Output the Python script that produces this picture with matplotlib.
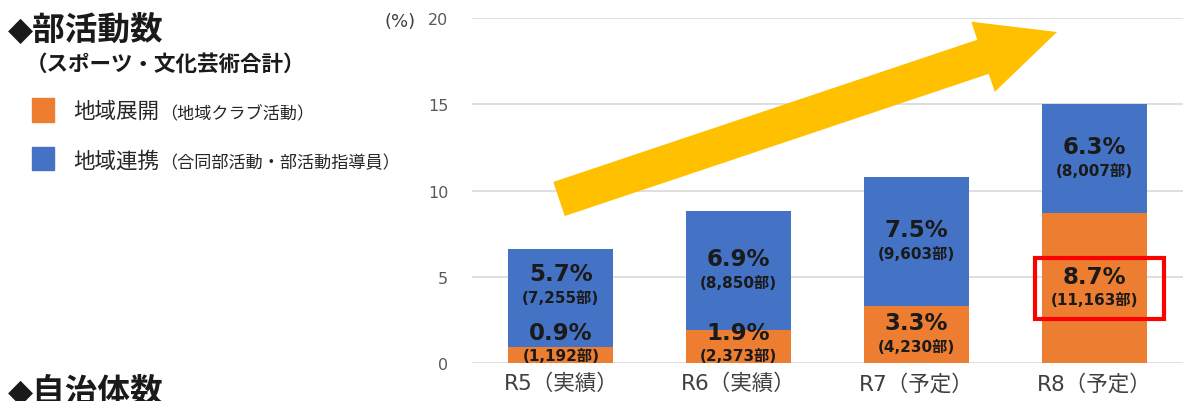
import numpy as np
import matplotlib
matplotlib.use("Agg")
import matplotlib.pyplot as plt
from matplotlib.patches import FancyArrow, Rectangle

plt.rcParams['font.family'] = ['DejaVu Sans', 'Noto Sans CJK JP']

# data
years = ["R5（実績）", "R6（実績）", "R7（予定）", "R8（予定）"]
local_pct = [0.9, 1.9, 3.3, 8.7]          # 地域展開
local_cnt = ["1,192", "2,373", "4,230", "11,163"]
coop_pct = [5.7, 6.9, 7.5, 6.3]           # 地域連携
coop_cnt = ["7,255", "8,850", "9,603", "8,007"]
yticks = [0, 5, 10, 15, 20]

orange = "#ED7D31"
blue = "#4472C4"
yellow = "#FFC000"
txt = "#1a1a1a"

fig = plt.figure(figsize=(12, 4.02), dpi=100)
ax = fig.add_axes([0.3933, 0.0945, 0.5925, 0.8582])

x = np.arange(len(years))
w = 0.59
ax.bar(x, local_pct, w, color=orange, zorder=2)
ax.bar(x, coop_pct, w, bottom=local_pct, color=blue, zorder=2)

ax.set_xlim(-0.5, 3.5)
ax.set_ylim(0, 20)
ax.set_yticks(yticks)
ax.yaxis.grid(True, color="#D9D9D9", lw=1.2, zorder=0)
ax.set_axisbelow(True)
for s in ax.spines.values():
    s.set_visible(False)
ax.tick_params(axis='y', length=0, pad=17, labelsize=11.5, labelcolor="#595959")
ax.tick_params(axis='x', length=0, pad=7, labelsize=15.5, labelcolor="#404040")
ax.set_xticks(x)
ax.set_xticklabels(years)

# labels inside bars
for i in range(len(years)):
    lo_mid = max(local_pct[i] / 2, 1.1)
    hi_mid = max(local_pct[i] + coop_pct[i] / 2, lo_mid + 3.4)
    for mid, p, c in [(lo_mid, local_pct[i], local_cnt[i]), (hi_mid, coop_pct[i], coop_cnt[i])]:
        ax.text(x[i], mid + 0.68, f"{p:.1f}%", ha='center', va='center',
                fontsize=16.5, fontweight='bold', color=txt, zorder=4)
        ax.text(x[i], mid - 0.68, f"({c}部)", ha='center', va='center',
                fontsize=11, fontweight='bold', color=txt, zorder=4)

# red highlight box around R8 local label
ax.add_patch(Rectangle((x[3] - 0.33, 2.56), 0.725, 3.5, fill=False,
                       edgecolor="#FF0000", lw=3, zorder=5, clip_on=False))

# overlay in pixel coords for arrow and side texts
ov = fig.add_axes([0, 0, 1, 1], zorder=3)
ov.set_xlim(0, 1200)
ov.set_ylim(402, 0)
ov.axis('off')
ov.patch.set_alpha(0)

ov.add_patch(FancyArrow(559, 200, 498, -167, width=36, head_width=74, head_length=78,
                        length_includes_head=True, color=yellow, lw=0))

ov.text(400, 22, "(%)", ha='center', va='center', fontsize=13, color="#404040")

ov.text(8, 30, "◆部活動数", ha='left', va='center', fontsize=23.5, fontweight='bold', color=txt)
ov.text(26, 64, "（スポーツ・文化芸術合計）", ha='left', va='center', fontsize=15.5,
        fontweight='bold', color=txt)

ov.add_patch(Rectangle((32, 99), 22, 24, color=orange))
ov.add_patch(Rectangle((32, 148), 22, 23, color=blue))
ov.text(73, 112, "地域展開", ha='left', va='center', fontsize=15.5, color="#262626")
ov.text(160, 114, "（地域クラブ活動）", ha='left', va='center', fontsize=12.3, color="#262626")
ov.text(73, 161, "地域連携", ha='left', va='center', fontsize=15.5, color="#262626")
ov.text(160, 163, "（合同部活動・部活動指導員）", ha='left', va='center', fontsize=12.3, color="#262626")

ov.text(8, 392, "◆自治体数", ha='left', va='center', fontsize=23.5, fontweight='bold', color=txt)

fig.savefig("out.png", dpi=100)
